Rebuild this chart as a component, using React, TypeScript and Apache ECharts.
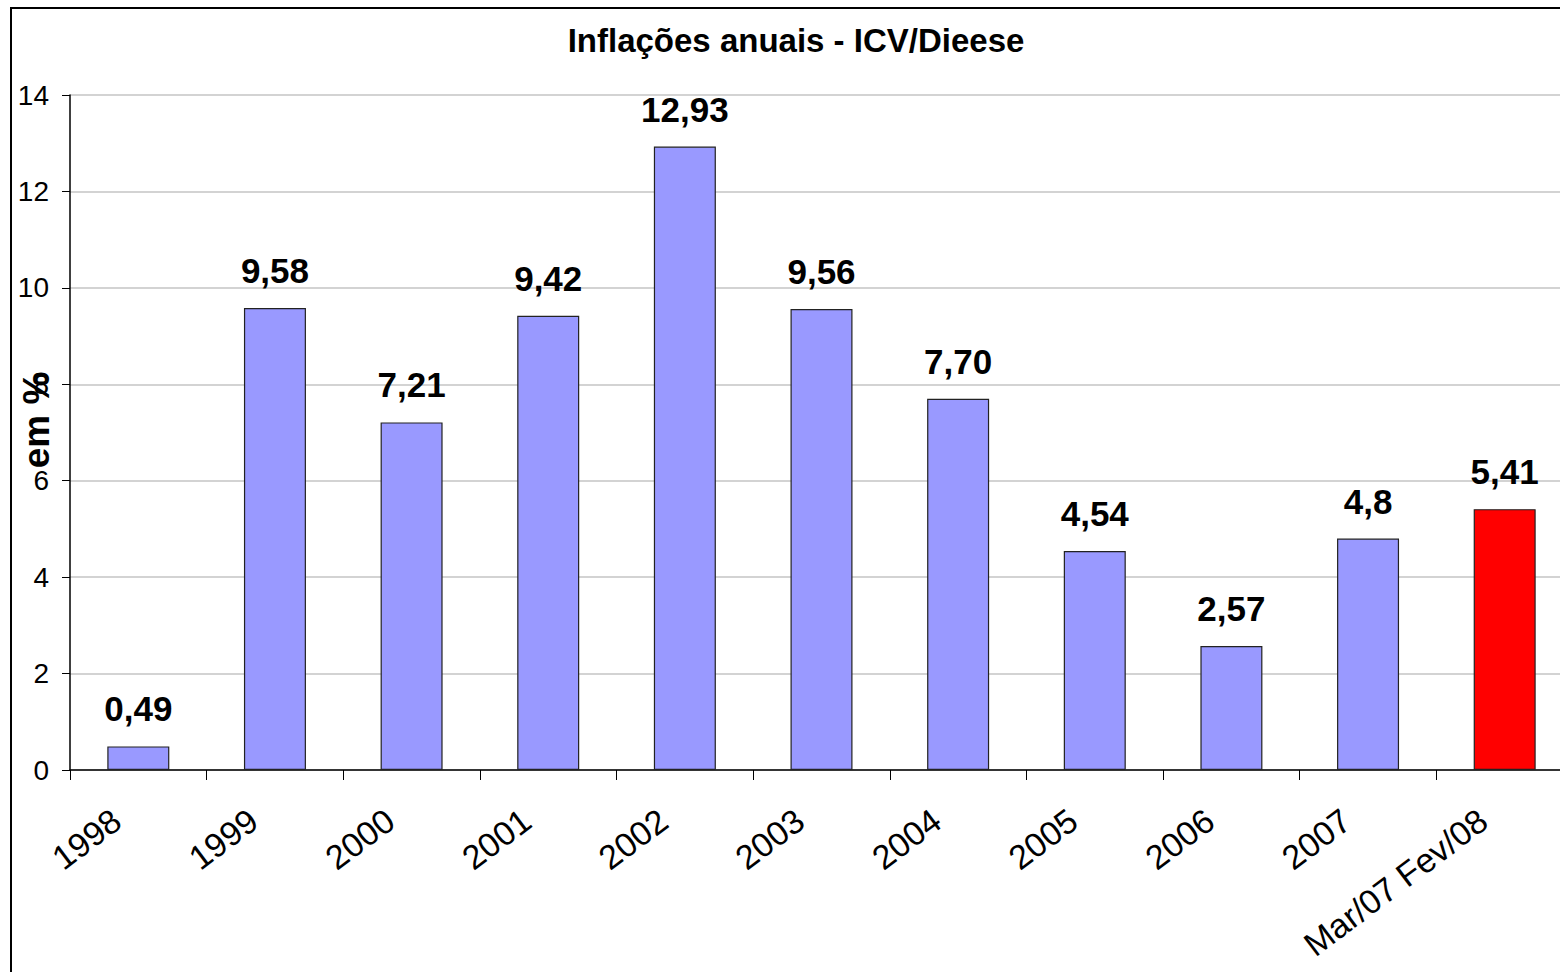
import React, { useEffect, useRef } from "react";
import * as echarts from "echarts";

const categories = ["1998", "1999", "2000", "2001", "2002", "2003", "2004", "2005", "2006", "2007", "Mar/07 Fev/08"];
const values = [0.49, 9.58, 7.21, 9.42, 12.93, 9.56, 7.7, 4.54, 2.57, 4.8, 5.41];
const valueLabels = ["0,49", "9,58", "7,21", "9,42", "12,93", "9,56", "7,70", "4,54", "2,57", "4,8", "5,41"];
const barColors = ["#9999FF", "#9999FF", "#9999FF", "#9999FF", "#9999FF", "#9999FF", "#9999FF", "#9999FF", "#9999FF", "#9999FF", "#FF0000"];
const yTicks = { min: 0, max: 14, interval: 2 };
const title = "Inflações anuais - ICV/Dieese";
const yName = "em %";

export default function App() {
  const ref = useRef<HTMLDivElement>(null);
  useEffect(() => {
    if (!ref.current) return;
    const chart = echarts.init(ref.current, null, { renderer: "svg" });
    const font = "'Liberation Sans', Arial, sans-serif";
    chart.setOption({
      animation: false,
      backgroundColor: "#ffffff",
      textStyle: { fontFamily: font },
      title: {
        text: title,
        left: 791,
        top: 19,
        textAlign: "center",
        textStyle: { fontFamily: font, fontSize: 33, fontWeight: "bold", color: "#000" },
      },
      grid: { left: 70, top: 95, bottom: 202, right: 7, containLabel: false },
      xAxis: {
        type: "category",
        data: categories,
        axisLine: { lineStyle: { color: "#000", width: 1.5 } },
        axisTick: { show: true, length: 10, interval: 0, alignWithLabel: false, lineStyle: { color: "#000" } },
        axisLabel: {
          interval: 0,
          rotate: 37,
          margin: 30,
          fontSize: 34,
          color: "#000",
          fontFamily: font,
          padding: [0, 27, 0, 0],
        },
      },
      yAxis: {
        type: "value",
        min: yTicks.min,
        max: yTicks.max,
        interval: yTicks.interval,
        axisLine: { show: true, lineStyle: { color: "#000", width: 1.5 } },
        axisTick: { show: true, length: 8, lineStyle: { color: "#000" } },
        splitLine: { show: true, lineStyle: { color: "#c4c4c4", width: 1.5 } },
        axisLabel: { margin: 21, fontSize: 28, color: "#000", fontFamily: font },
      },
      graphic: [
        {
          type: "rect",
          shape: { x: 11, y: 8, width: 1700, height: 1100 },
          style: { fill: "none", stroke: "#000", lineWidth: 2 },
          silent: true,
        },
        {
          type: "text",
          x: 36,
          y: 420,
          rotation: Math.PI / 2,
          style: {
            text: yName,
            fontSize: 37,
            fontWeight: "bold",
            fontFamily: font,
            fill: "#000",
            textAlign: "center",
            textVerticalAlign: "middle",
          },
        },
      ],
      series: [
        {
          type: "bar",
          barWidth: 62,
          data: values.map((v, i) => ({
            value: v,
            itemStyle: { color: barColors[i], borderColor: "#222", borderWidth: 1.2 },
          })),
          label: {
            show: true,
            position: "top",
            distance: 20,
            fontSize: 35,
            fontWeight: "bold",
            color: "#000",
            fontFamily: font,
            formatter: (p: any) => valueLabels[p.dataIndex],
          },
        },
      ],
    });
    return () => chart.dispose();
  }, []);
  return (
    <div style={{ position: "absolute", left: 0, top: 0, width: 1560, height: 972, overflow: "hidden" }}>
      <div ref={ref} style={{ width: 1580, height: 972 }} />
    </div>
  );
}
